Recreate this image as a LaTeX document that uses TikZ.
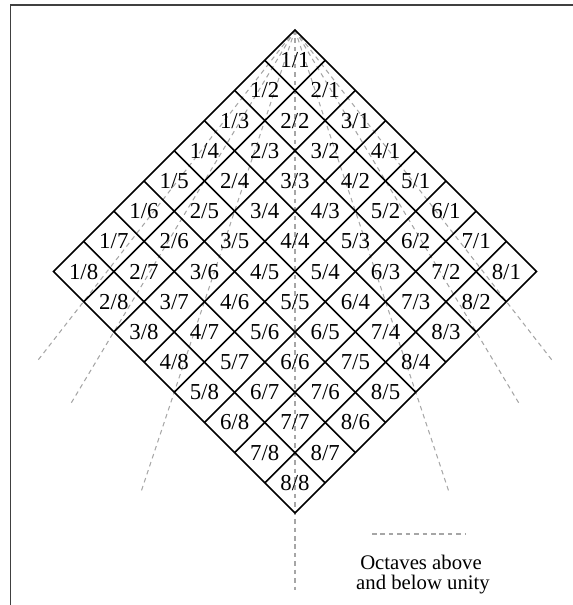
\documentclass[tikz,border=0pt]{standalone}
\usepackage{fontspec}
\setmainfont{Liberation Serif}

\begin{document}
\begin{tikzpicture}[x=0.02cm, y=-0.02cm,
    cell/.style={inner sep=0pt, text height=8.5pt, text depth=0pt, font=\fontsize{13}{15}\selectfont},
    legend/.style={inner sep=0pt, font=\fontsize{11.8}{13}\selectfont},
    octave/.style={black!35, line width=0.6pt, dash pattern=on 2.6pt off 2.2pt},
    gridline/.style={black, line width=0.9pt},
    frameline/.style={black!75, line width=0.8pt}]
    \useasboundingbox (0,0) rectangle (573,605);
    \draw[frameline] (10.5,605) -- (10.5,5) -- (573,5);
    % the table of ratios, numerator down to the right, denominator down to the left
    \begin{scope}[shift={(295,30)}, x={(0.604cm,-0.604cm)}, y={(-0.604cm,-0.604cm)}]
        \coordinate (apex) at (0,0);
        \foreach \n/\a/\b in {up8/9.71/1.21, up4/9.88/2.47, up2/10.2/5.1, unity/9.28/9.28,
                              down2/5.1/10.2, down4/2.47/9.88, down8/1.21/9.71}
            \coordinate (\n) at (\a,\b);
        \foreach \n in {up8, up4, up2, unity, down2, down4, down8}
            \draw[octave] (apex) -- (\n);
        \draw[gridline] (0,0) -- (8,0) -- (8,8) -- (0,8) -- cycle;
        \foreach \i in {1,...,7} {
            \draw[gridline] (\i,0) -- (\i,8);
            \draw[gridline] (0,\i) -- (8,\i);
        }
        \foreach \a in {1,...,8}
            \foreach \b in {1,...,8}
                \node[cell] (c\a\b) at (\a-0.5,\b-0.5) {\a/\b};
    \end{scope}
    % key
    \coordinate (key-l) at (372,534);
    \coordinate (key-r) at (465,534);
    \draw[octave] (key-l) -- (key-r);
    \node[legend, anchor=base] (key-a) at (421,569) {Octaves above};
    \node[legend, anchor=base] (key-b) at (423,589) {and below unity};
\end{tikzpicture}
\end{document}
